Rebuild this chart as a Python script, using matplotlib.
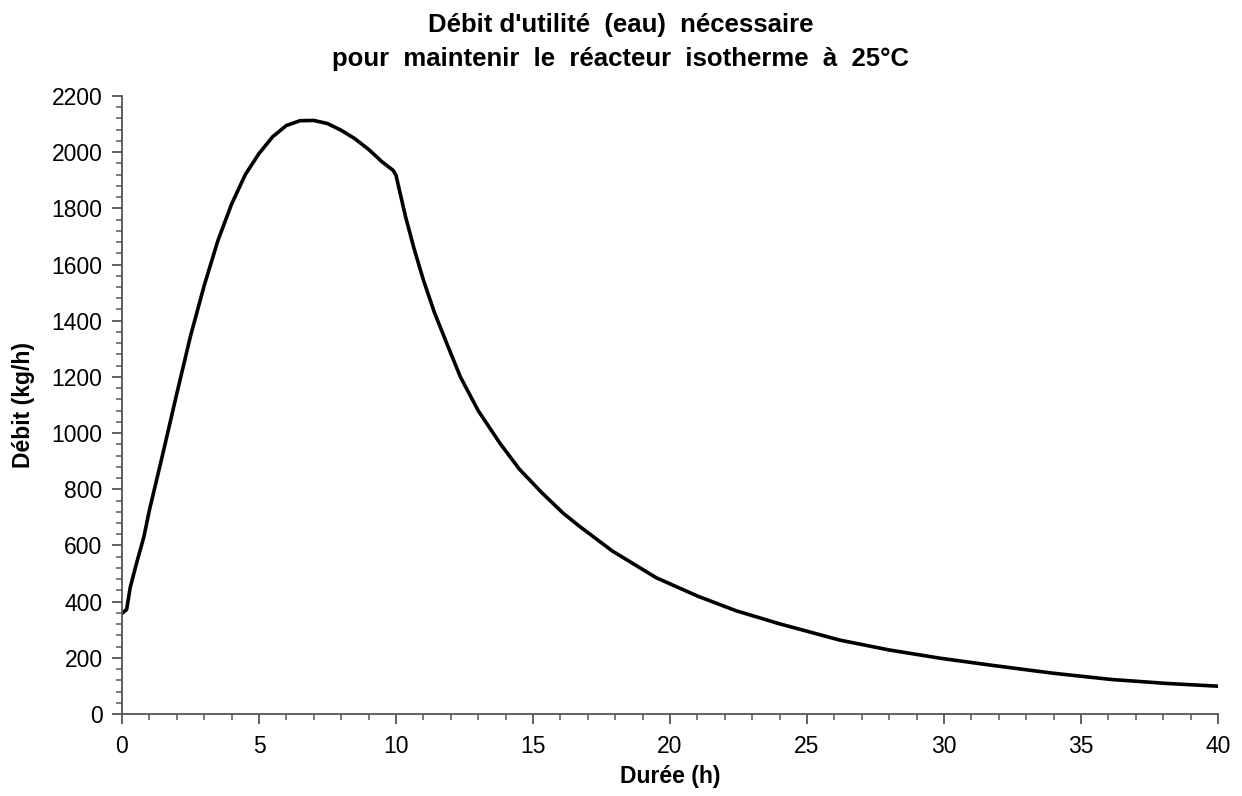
import matplotlib
matplotlib.use('Agg')
import matplotlib.pyplot as plt
from matplotlib.ticker import MultipleLocator

plt.rcParams['font.family'] = ['Liberation Sans', 'DejaVu Sans']

# Durée (h) et débit d'eau (kg/h)
duree = [0, 0.17, 0.3, 0.5, 0.8, 1.0, 1.5, 2.0, 2.5, 3.0, 3.5, 4.0, 4.5, 5.0,
         5.5, 6.0, 6.5, 7.0, 7.5, 8.0, 8.5, 9.0, 9.5, 9.9, 10.0, 10.35, 10.65,
         11.0, 11.4, 11.85, 12.35, 13.0, 13.8, 14.5, 15.3, 16.1, 16.7, 17.9,
         19.5, 21.0, 22.4, 24.0, 26.2, 28.0, 29.9, 31.7, 34.0, 36.1, 38.1, 40]
debit = [358, 372, 450, 525, 631, 725, 930, 1140, 1345, 1525, 1685, 1815, 1920, 1995,
         2055, 2095, 2112, 2113, 2102, 2078, 2048, 2010, 1965, 1935, 1918, 1770, 1660,
         1545, 1430, 1320, 1200, 1080, 963, 872, 790, 715, 668, 580,
         485, 420, 368, 321, 263, 228, 198, 174, 145, 123, 109, 99]

titre = "Débit d'utilité  (eau)  nécessaire\npour  maintenir  le  réacteur  isotherme  à  25°C"

fig = plt.figure(figsize=(12.42, 7.96), dpi=100)
ax = fig.add_axes([0.0982, 0.103, 0.8825, 0.7764])

ax.plot(duree, debit, color='black', lw=2.6, solid_joinstyle='round', solid_capstyle='round')

ax.set_xlim(0, 40)
ax.set_ylim(0, 2200)
ax.xaxis.set_major_locator(MultipleLocator(5))
ax.xaxis.set_minor_locator(MultipleLocator(1))
ax.yaxis.set_major_locator(MultipleLocator(200))
ax.yaxis.set_minor_locator(MultipleLocator(40))

for s in ['top', 'right']:
    ax.spines[s].set_visible(False)
for s in ['left', 'bottom']:
    ax.spines[s].set_color('#555555')
    ax.spines[s].set_linewidth(1.3)

ax.tick_params(axis='y', which='major', pad=7)
ax.tick_params(axis='x', which='major', pad=8)
ax.tick_params(which='major', direction='out', length=7, width=1.3, color='#555555',
               labelsize=16.5)
ax.tick_params(which='minor', direction='out', length=4, width=1.1, color='#555555')

ax.set_xlabel('Durée (h)', fontsize=16.5, fontweight='bold', labelpad=5)
ax.set_ylabel('Débit (kg/h)', fontsize=16.5, fontweight='bold', labelpad=12)
fig.text(0.5, 0.984, titre, ha='center', va='top', fontsize=18.5, fontweight='bold',
         linespacing=1.55)

fig.savefig('out.png', dpi=100)
